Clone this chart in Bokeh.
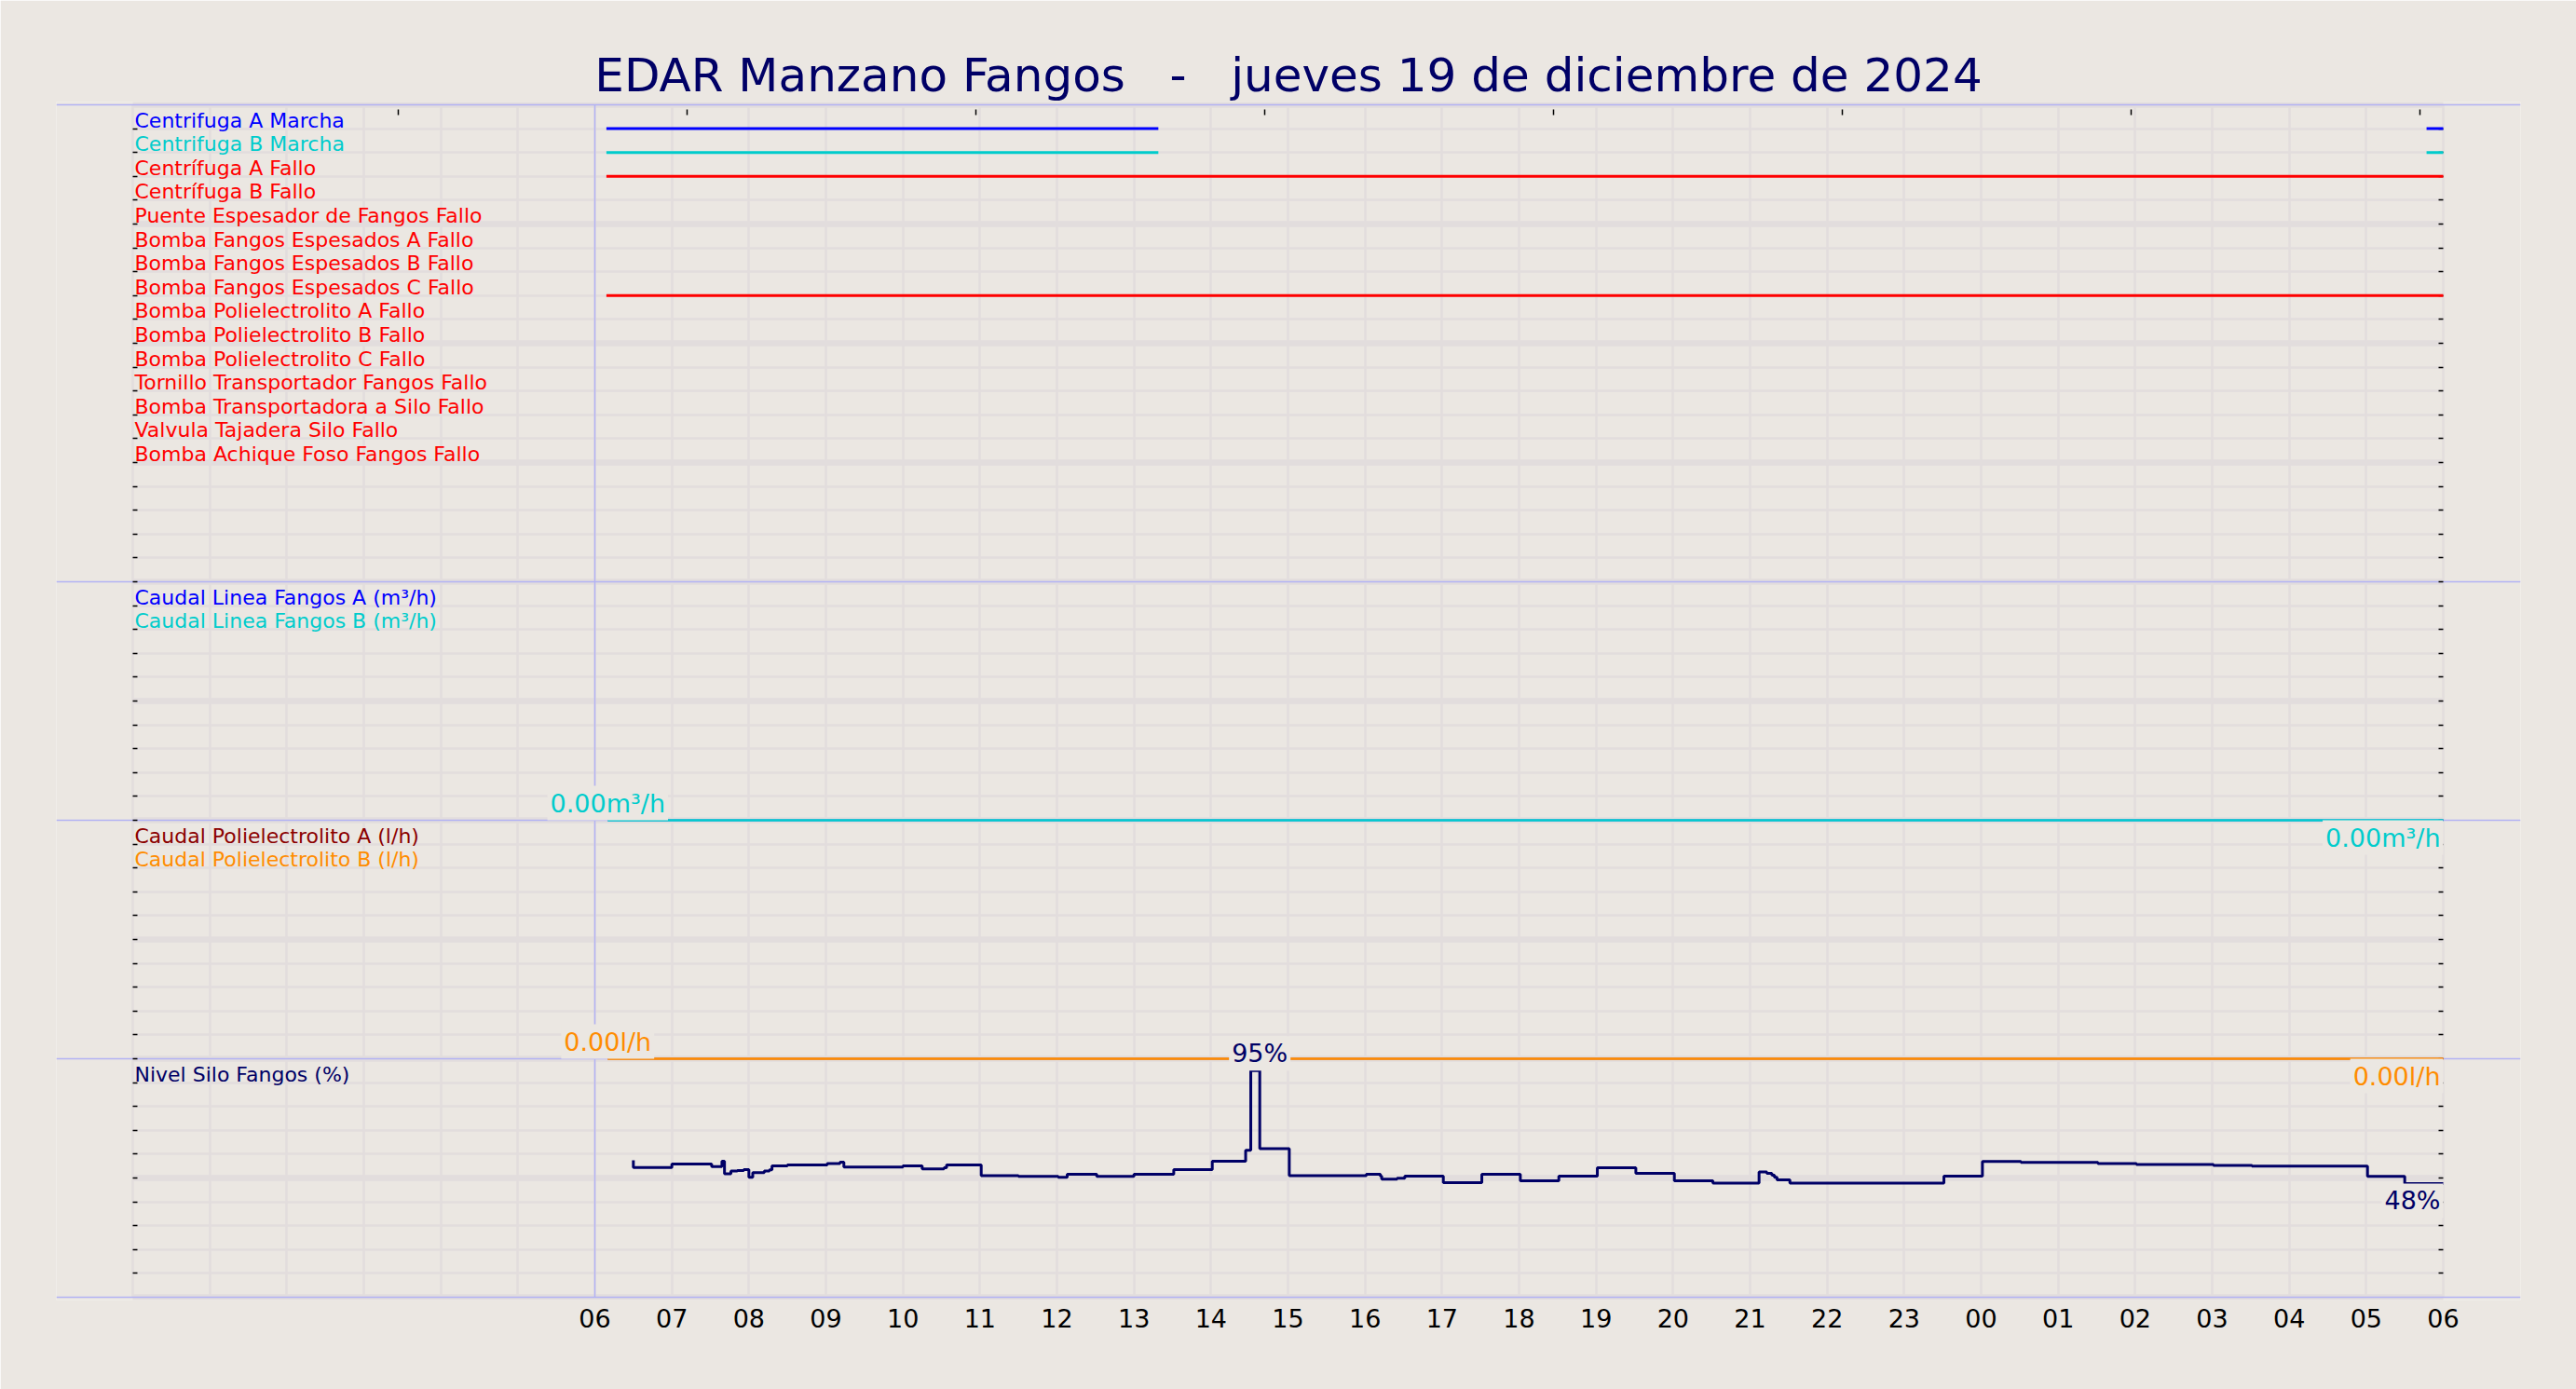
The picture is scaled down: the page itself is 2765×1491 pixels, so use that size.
from bokeh.plotting import figure
from bokeh.models import Range1d, LinearAxis, FixedTicker, Grid, ColumnDataSource
from bokeh.core.properties import value
from bokeh.embed import file_html
from bokeh.resources import INLINE

TITLE = "EDAR Manzano Fangos \u00a0 - \u00a0 jueves 19 de diciembre de 2024"

# ---- digital signals (upper panel, one row each) ----
DIGITAL_NAMES = [
    "Centrifuga A Marcha", "Centrifuga B Marcha", "Centrífuga A Fallo", "Centrífuga B Fallo",
    "Puente Espesador de Fangos Fallo", "Bomba Fangos Espesados A Fallo",
    "Bomba Fangos Espesados B Fallo", "Bomba Fangos Espesados C Fallo",
    "Bomba Polielectrolito A Fallo", "Bomba Polielectrolito B Fallo",
    "Bomba Polielectrolito C Fallo", "Tornillo Transportador Fangos Fallo",
    "Bomba Transportadora a Silo Fallo", "Valvula Tajadera Silo Fallo",
    "Bomba Achique Foso Fangos Fallo",
]
DIGITAL_COLORS = ["#0000ff", "#00cccc"] + ["#ff0000"] * 13
marcha_a_on = [("19 06:09", "19 13:19"), ("20 05:47", "20 06:00")]
marcha_b_on = [("19 06:09", "19 13:19"), ("20 05:47", "20 06:00")]
fallo_centrifuga_a_on = [("19 06:09", "20 06:00")]
fallo_bomba_esp_c_on = [("19 06:09", "20 06:00")]
DIGITAL_ON = {
    "Centrifuga A Marcha": marcha_a_on,
    "Centrifuga B Marcha": marcha_b_on,
    "Centrífuga A Fallo": fallo_centrifuga_a_on,
    "Bomba Fangos Espesados C Fallo": fallo_bomba_esp_c_on,
}

# ---- analog: caudal linea fangos ----
CAUDAL_NAMES = ["Caudal Linea Fangos A (m³/h)", "Caudal Linea Fangos B (m³/h)"]
CAUDAL_COLORS = ["#0000ff", "#00cccc"]
caudal_t = ["19 06:10", "20 06:00"]
caudal_a = [0.0, 0.0]
caudal_b = [0.0, 0.0]
CAUDAL_MAX = 100.0

# ---- analog: caudal polielectrolito ----
POLI_NAMES = ["Caudal Polielectrolito A (l/h)", "Caudal Polielectrolito B (l/h)"]
POLI_COLORS = ["#8b0000", "#ff8c00"]
poli_t = ["19 06:10", "20 06:00"]
poli_a = [0.0, 0.0]
poli_b = [0.0, 0.0]
POLI_MAX = 100.0

# ---- analog: nivel silo ----
NIVEL_NAME = "Nivel Silo Fangos (%)"
NIVEL_COLOR = "#000066"
nivel_t = ["19 06:30", "19 07:00", "19 07:31", "19 07:39", "19 07:41", "19 07:46", "19 07:51",
           "19 07:56", "19 08:00", "19 08:03", "19 08:12", "19 08:16", "19 08:18", "19 08:30",
           "19 09:01", "19 09:11", "19 09:14", "19 10:00", "19 10:15", "19 10:32", "19 10:34",
           "19 11:01", "19 11:30", "19 12:01", "19 12:08", "19 12:31", "19 13:00", "19 13:31",
           "19 14:01", "19 14:27", "19 14:31", "19 14:38", "19 15:01", "19 16:01", "19 16:12",
           "19 16:13", "19 16:25", "19 16:31", "19 17:01", "19 17:31", "19 18:01", "19 18:31",
           "19 19:01", "19 19:31", "19 20:01", "19 20:31", "19 21:07", "19 21:13", "19 21:17",
           "19 21:19", "19 21:21", "19 21:31", "19 23:31", "20 00:01", "20 00:31", "20 01:31",
           "20 02:01", "20 03:01", "20 03:31", "20 05:01", "20 05:30", "20 06:00"]
nivel_v = [57.4, 54.4, 55.9, 54.8, 57.0, 51.8, 52.9, 53.1, 53.5, 50.3, 52.2, 52.9, 53.4, 55.1,
           55.5, 56.1, 56.6, 54.6, 55.1, 53.8, 54.3, 55.5, 51.0, 50.7, 50.3, 51.6, 50.7, 51.6,
           53.5, 57.0, 61.6, 95.0, 62.3, 51.0, 51.6, 50.8, 49.5, 49.9, 50.8, 48.0, 51.6, 48.8,
           50.8, 54.3, 52.0, 48.8, 47.9, 52.5, 52.0, 51.2, 50.3, 49.2, 47.9, 50.8, 56.9, 56.5,
           56.1, 55.7, 55.3, 55.0, 50.7, 47.7]
NIVEL_MAX = 100.0

# ---- x axis ----
HOUR_LABELS = ["06", "07", "08", "09", "10", "11", "12", "13", "14", "15", "16", "17", "18",
               "19", "20", "21", "22", "23", "00", "01", "02", "03", "04", "05", "06"]
TOP_TICKS = [3.45, 7.2, 10.95, 14.7, 18.45, 22.2, 25.95, 29.7]


def hrs(s):
    d, hm = s.split()
    h, m = hm.split(":")
    return (int(d) - 19) * 24 + int(h) + int(m) / 60.0


BG = "#ebe7e2"
GRID = "#e2dddd"
SEP = "#b2b2f4"
FONT = "DejaVu Sans"

HOUR_PX = 2480 / 30.0
ROW_PX = 25.6
PAD = 3 / ROW_PX
p = figure(width=2765, height=1491,
           x_range=Range1d(-82 / HOUR_PX, 30 + 83 / HOUR_PX),
           y_range=Range1d(-PAD, 50 + PAD),
           output_backend="svg", toolbar_location=None,
           x_axis_location=None, y_axis_location=None,
           min_border_left=60, min_border_right=60, min_border_top=109, min_border_bottom=96,
           background_fill_color=BG, border_fill_color=BG, outline_line_color=None)
p.center = []

p.title.text = TITLE
p.title.text_font = FONT
p.title.text_font_size = "50px"
p.title.text_font_style = "normal"
p.title.text_color = "#000066"
p.title.align = "center"
p.title.standoff = 0

# grids, spines and tick marks
p.add_layout(Grid(dimension=0, ticker=FixedTicker(ticks=list(range(0, 31))), cross_bounds=(0, 50),
                  grid_line_color=GRID, grid_line_width=2.5))
p.add_layout(Grid(dimension=1, ticker=FixedTicker(ticks=[r for r in range(1, 50) if r % 5]),
                  cross_bounds=(0, 30), grid_line_color=GRID, grid_line_width=2.5))
p.add_layout(Grid(dimension=1, ticker=FixedTicker(ticks=list(range(0, 51, 5))),
                  cross_bounds=(0, 30), grid_line_color=GRID, grid_line_width=6.5))
p.add_layout(Grid(dimension=1, ticker=FixedTicker(ticks=[0, 10, 20, 30, 50]),
                  grid_line_color=SEP, grid_line_width=1.5))
p.add_layout(Grid(dimension=0, ticker=FixedTicker(ticks=[6]), cross_bounds=(0, 50),
                  grid_line_color=SEP, grid_line_width=1.5))
rows = list(range(1, 50))
p.add_layout(Grid(dimension=1, ticker=FixedTicker(ticks=rows), cross_bounds=(0, 5 / HOUR_PX),
                  grid_line_color="black", grid_line_width=1.5))
p.add_layout(Grid(dimension=1, ticker=FixedTicker(ticks=rows), cross_bounds=(30 - 5 / HOUR_PX, 30),
                  grid_line_color="black", grid_line_width=1.5))
p.add_layout(Grid(dimension=0, ticker=FixedTicker(ticks=TOP_TICKS),
                  cross_bounds=(50 - 11 / ROW_PX, 50 - 5 / ROW_PX),
                  grid_line_color="black", grid_line_width=1.5))

hour_pos = list(range(6, 31))
p.add_layout(LinearAxis(ticker=FixedTicker(ticks=hour_pos),
                        major_label_overrides={h: lab for h, lab in zip(hour_pos, HOUR_LABELS)},
                        major_tick_in=0, major_tick_out=0, minor_tick_line_color=None,
                        axis_line_color=None, major_label_text_font=FONT,
                        major_label_text_font_size="27px", major_label_text_color="black",
                        major_label_standoff=9), "below")

# digital signal lines
seg = dict(x0=[], x1=[], y=[], color=[])
for i, name in enumerate(DIGITAL_NAMES):
    for a, b in DIGITAL_ON.get(name, []):
        seg["x0"].append(hrs(a)); seg["x1"].append(hrs(b))
        seg["y"].append(50 - (i + 1)); seg["color"].append(DIGITAL_COLORS[i])
p.segment(x0="x0", y0="y", x1="x1", y1="y", line_color="color", line_width=3,
          source=ColumnDataSource(seg))

# analog series: (times, values, base row, max, color, label format, width)
series = [
    (caudal_t, caudal_a, 20, CAUDAL_MAX, CAUDAL_COLORS[0], None, 1.5),
    (caudal_t, caudal_b, 20, CAUDAL_MAX, CAUDAL_COLORS[1], "{:.2f}m³/h", 2.5),
    (poli_t, poli_a, 10, POLI_MAX, POLI_COLORS[0], None, 1.5),
    (poli_t, poli_b, 10, POLI_MAX, POLI_COLORS[1], "{:.2f}l/h", 2.5),
    (nivel_t, nivel_v, 0, NIVEL_MAX, NIVEL_COLOR, "{:.0f}%", 3),
]
labels = []
for tt, vv, base, vmax, col, fmt, lw in series:
    xs = [hrs(t) for t in tt]
    ys = [base + v / vmax * 10 for v in vv]
    p.step(xs, ys, mode="before", line_color=col, line_width=lw)
    if fmt:
        imax = max(range(len(vv)), key=lambda k: vv[k])
        labels.append((xs[imax], ys[imax], fmt.format(vv[imax]), col, "center", "bottom", 0))
        labels.append((xs[-1], ys[-1], fmt.format(vv[-1]), col, "right", "top", 0))

for x, y, txt, col, al, bl, off in labels:
    p.text(x=[x], y=[y], text=[txt], text_color=col, text_align=al, text_baseline=bl,
           y_offset=off, text_font=value(FONT), text_font_size="27px",
           background_fill_color=BG, padding=3)

# row labels
lab = dict(x=[], y=[], text=[], color=[])
for i, name in enumerate(DIGITAL_NAMES):
    lab["x"].append(0); lab["y"].append(50 - (i + 1)); lab["text"].append(name); lab["color"].append(DIGITAL_COLORS[i])
for base, names, cols in [(30, CAUDAL_NAMES, CAUDAL_COLORS), (20, POLI_NAMES, POLI_COLORS),
                          (10, [NIVEL_NAME], [NIVEL_COLOR])]:
    for j, (n, c) in enumerate(zip(names, cols)):
        lab["x"].append(0); lab["y"].append(base - (j + 1)); lab["text"].append(n); lab["color"].append(c)
p.text(x="x", y="y", text="text", text_color="color", source=ColumnDataSource(lab),
       text_font=value(FONT), text_font_size="22px", text_baseline="middle",
       text_align="left", x_offset=2, y_offset=-9)

open("out.html", "w").write(file_html(p, INLINE))
